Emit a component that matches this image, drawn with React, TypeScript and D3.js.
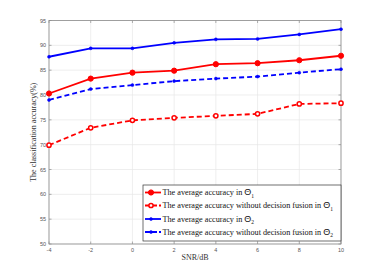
import React from "react";
import * as d3 from "d3";

const snr = [-4, -2, 0, 2, 4, 6, 8, 10];
const accTheta1 = [80.3, 83.3, 84.5, 84.9, 86.2, 86.4, 87.0, 87.9];
const accTheta1NoFusion = [69.9, 73.4, 74.9, 75.4, 75.8, 76.2, 78.2, 78.35];
const accTheta2 = [87.7, 89.4, 89.4, 90.5, 91.2, 91.3, 92.2, 93.25];
const accTheta2NoFusion = [79.0, 81.2, 82.0, 82.8, 83.3, 83.7, 84.5, 85.2];
const xTicks = [-4, -2, 0, 2, 4, 6, 8, 10];
const yTicks = [50, 55, 60, 65, 70, 75, 80, 85, 90, 95];

const series = [
  { name: "The average accuracy in ", sub: "1", values: accTheta1, color: "#ff0000", dash: "", marker: "filled" },
  { name: "The average accuracy without decision fusion in ", sub: "1", values: accTheta1NoFusion, color: "#ff0000", dash: "5,3", marker: "open" },
  { name: "The average accuracy in ", sub: "2", values: accTheta2, color: "#0000ff", dash: "", marker: "dot" },
  { name: "The average accuracy without decision fusion in ", sub: "2", values: accTheta2NoFusion, color: "#0000ff", dash: "5,3", marker: "dot" },
];

export default function App() {
  const W = 378, H = 275;
  const L = 49, R = 341, T = 20.5, B = 244;
  const x = d3.scaleLinear().domain([-4, 10]).range([L, R]);
  const y = d3.scaleLinear().domain([50, 95]).range([B, T]);
  const line = d3.line<number>().x((_, i) => x(snr[i])).y((d) => y(d));
  const serif = "'Liberation Serif', 'Times New Roman', serif";
  const sans = "'Liberation Sans', Arial, sans-serif";

  const marker = (kind: string, color: string, cx: number, cy: number, key: any) => {
    if (kind === "filled") return <circle key={key} cx={cx} cy={cy} r={2.6} fill={color} stroke={color} strokeWidth={1} />;
    if (kind === "open") return <circle key={key} cx={cx} cy={cy} r={2.1} fill="#fff" stroke={color} strokeWidth={1.5} />;
    return <circle key={key} cx={cx} cy={cy} r={1.5} fill={color} stroke={color} strokeWidth={0.5} />;
  };

  const legX = 143, legY = 185, legW = 198, legH = 56;
  const rowY = [192.5, 205.5, 219, 232];

  return (
    <div style={{ position: "absolute", left: 0, top: 0 }}>
      <svg width={W} height={H} style={{ display: "block", background: "#fff" }}>
        <rect x={L} y={T} width={R - L} height={B - T} fill="#fff" />
        {xTicks.map((t) => (
          <line key={"gx" + t} x1={x(t)} x2={x(t)} y1={T} y2={B} stroke="#e6e6e6" strokeWidth={0.7} />
        ))}
        {yTicks.map((t) => (
          <line key={"gy" + t} x1={L} x2={R} y1={y(t)} y2={y(t)} stroke="#e6e6e6" strokeWidth={0.7} />
        ))}
        <rect x={L} y={T} width={R - L} height={B - T} fill="none" stroke="#8c8c8c" strokeWidth={0.8} />
        {xTicks.map((t) => (
          <g key={"tx" + t}>
            <line x1={x(t)} x2={x(t)} y1={B} y2={B - 2.5} stroke="#8c8c8c" strokeWidth={0.7} />
            <line x1={x(t)} x2={x(t)} y1={T} y2={T + 2.5} stroke="#8c8c8c" strokeWidth={0.7} />
            <text x={x(t)} y={B + 8} fontSize={5.5} fill="#555" textAnchor="middle" fontFamily={sans}>{t}</text>
          </g>
        ))}
        {yTicks.map((t) => (
          <g key={"ty" + t}>
            <line x1={L} x2={L + 2.5} y1={y(t)} y2={y(t)} stroke="#8c8c8c" strokeWidth={0.7} />
            <line x1={R} x2={R - 2.5} y1={y(t)} y2={y(t)} stroke="#8c8c8c" strokeWidth={0.7} />
            <text x={L - 3} y={y(t) + 2} fontSize={5.5} fill="#555" textAnchor="end" fontFamily={sans}>{t}</text>
          </g>
        ))}
        {series.map((s, si) => (
          <g key={"s" + si}>
            <path d={line(s.values) || ""} fill="none" stroke={s.color} strokeWidth={1.8} strokeDasharray={s.dash} />
            {s.values.map((v, i) => marker(s.marker, s.color, x(snr[i]), y(v), i))}
          </g>
        ))}
        <text x={195} y={260} fontSize={8} fill="#333" textAnchor="middle" fontFamily={serif}>SNR/dB</text>
        <text transform={`translate(36,${(T + B) / 2}) rotate(-90)`} fontSize={8} fill="#333" textAnchor="middle" fontFamily={serif}>
          The classification accuracy(%)
        </text>
        <rect x={legX} y={legY} width={legW} height={legH} fill="#fff" stroke="#333" strokeWidth={0.7} />
        {series.map((s, si) => (
          <g key={"l" + si}>
            <line x1={legX + 2} x2={legX + 18} y1={rowY[si]} y2={rowY[si]} stroke={s.color} strokeWidth={1.8} strokeDasharray={s.dash ? "5,2" : ""} />
            {marker(s.marker, s.color, legX + 8, rowY[si], "m")}
            <text x={legX + 19.5} y={rowY[si] + 2.5} fontSize={8.2} fill="#111" fontFamily={serif}>
              {s.name}
              <tspan fontFamily={sans} fontSize={9}>Θ</tspan>
              <tspan fontSize={5.5} dy={2.5}>{s.sub}</tspan>
            </text>
          </g>
        ))}
      </svg>
    </div>
  );
}
